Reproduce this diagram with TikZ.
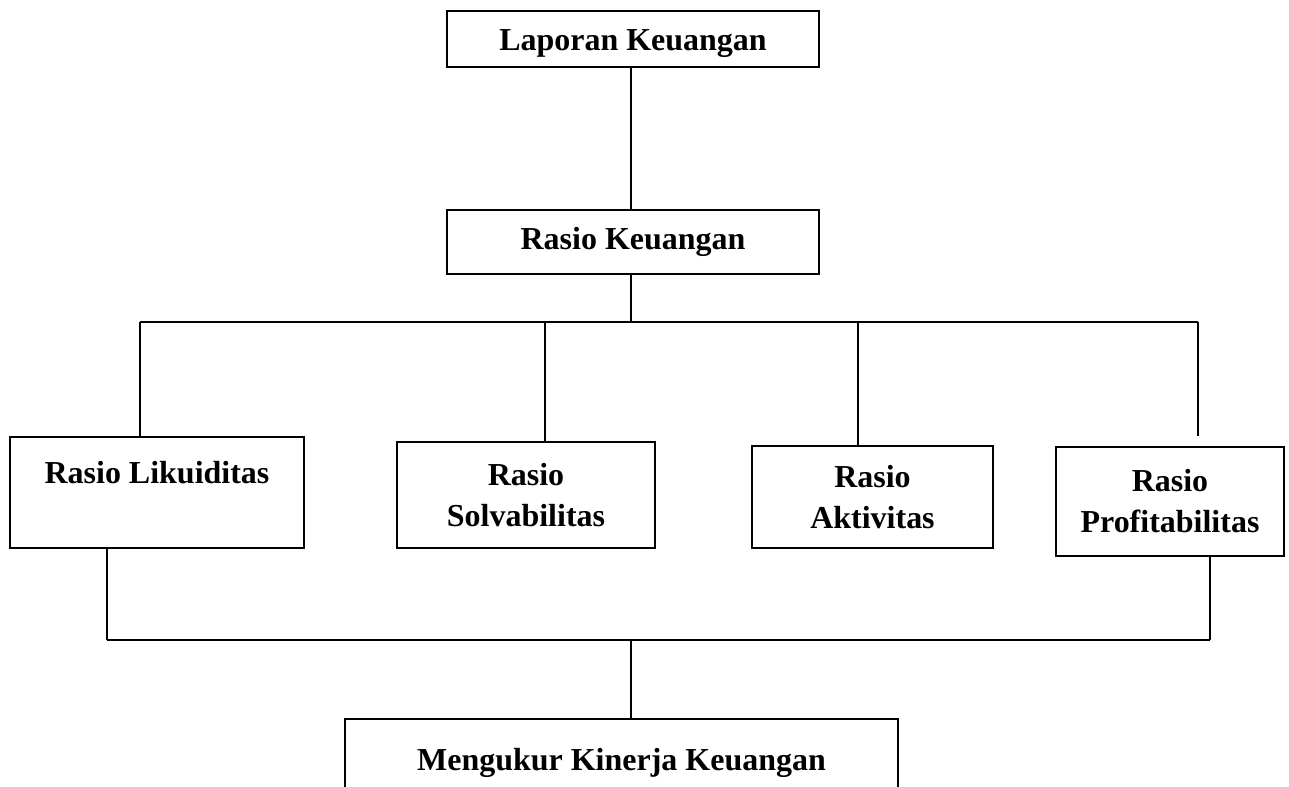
\documentclass[tikz,border=0pt]{standalone}
\usepackage{fontspec}
\setmainfont{Liberation Serif}
\usepackage{tikz}
\usetikzlibrary{positioning, calc}

\begin{document}
\begin{tikzpicture}[x=0.02cm, y=-0.02cm]
	\tikzset{box/.style={draw, rectangle, line width=0.8pt, align=center, inner sep=0pt,
			font=\bfseries\fontsize{18.2}{23.3}\selectfont}}
	\tikzset{edge/.style={line width=0.8pt}}
	
	\clip (0,0) rectangle (1289,787);
	
	\node(lap) at (633,39) [box, minimum width=7.44cm, minimum height=1.12cm, text height=0.48cm, text depth=0pt] {Laporan Keuangan};
	\node(rk) at (633,242) [box, minimum width=7.44cm, minimum height=1.28cm] {Rasio Keuangan};
	
	\node(r_lik) at (157,492.5) [box, minimum width=5.88cm, minimum height=2.22cm] {Rasio Likuiditas\\~};
	\node(r_sol) at (526,495) [box, minimum width=5.16cm, minimum height=2.12cm] {Rasio\\Solvabilitas};
	\node(r_akt) at (872.5,497) [box, minimum width=4.82cm, minimum height=2.04cm] {Rasio\\Aktivitas};
	\node(r_pro) at (1170,501.5) [box, minimum width=4.56cm, minimum height=2.18cm] {Rasio\\Profitabilitas};
	
	\node(kinerja) at (621.5,780) [box, minimum width=11.06cm, minimum height=2.44cm] {Mengukur Kinerja Keuangan\\~};
	
	\coordinate(top_m) at (631,322);
	\coordinate(top_l) at (140,322);
	\coordinate(top_r) at (1198,322);
	\coordinate(top_sol) at (545,322);
	\coordinate(top_akt) at (858,322);
	\coordinate(bot_l) at (107,640);
	\coordinate(bot_m) at (631,640);
	\coordinate(bot_r) at (1210,640);
	
	\draw[edge] (top_m |- lap.south) -- (top_m |- rk.north);
	\draw[edge] (top_m |- rk.south) -- (top_m);
	\draw[edge] (top_l) -- (top_r);
	
	\draw[edge] (top_l) -- (top_l |- r_lik.north);
	\draw[edge] (top_sol) -- (top_sol |- r_sol.north);
	\draw[edge] (top_akt) -- (top_akt |- r_akt.north);
	\draw[edge] (top_r) -- ($(top_r |- r_pro.north)+(0,-10)$);
	
	\draw[edge] (bot_l |- r_lik.south) -- (bot_l);
	\draw[edge] (bot_r |- r_pro.south) -- (bot_r);
	\draw[edge] (bot_l) -- (bot_r);
	\draw[edge] (bot_m) -- (bot_m |- kinerja.north);
	
\end{tikzpicture}
\end{document}
